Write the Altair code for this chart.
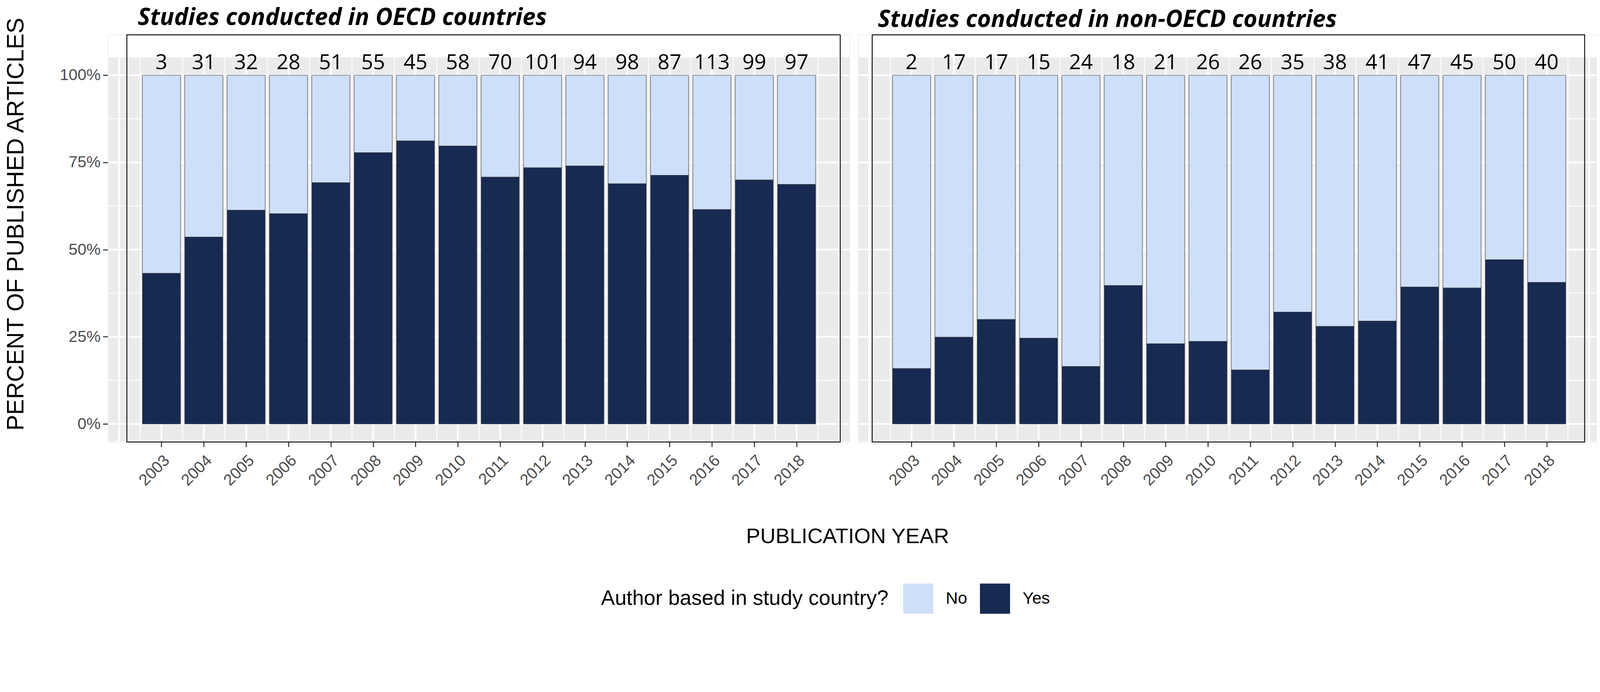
import altair as alt
import pandas as pd

# ---------------- data ----------------
YEARS = [2003, 2004, 2005, 2006, 2007, 2008, 2009, 2010,
         2011, 2012, 2013, 2014, 2015, 2016, 2017, 2018]
OECD_N = [3, 31, 32, 28, 51, 55, 45, 58, 70, 101, 94, 98, 87, 113, 99, 97]
OECD_YES = [0.432, 0.536, 0.613, 0.603, 0.692, 0.778, 0.812, 0.797,
            0.708, 0.735, 0.740, 0.689, 0.713, 0.615, 0.700, 0.687]
NON_N = [2, 17, 17, 15, 24, 18, 21, 26, 26, 35, 38, 41, 47, 45, 50, 40]
NON_YES = [0.159, 0.249, 0.300, 0.246, 0.165, 0.397, 0.230, 0.237,
           0.155, 0.321, 0.280, 0.295, 0.393, 0.390, 0.471, 0.406]
STATUS = ["No", "Yes"]
Y_TICKS = [0, 0.25, 0.5, 0.75, 1.0]
Y_MINOR = [0.125, 0.375, 0.625, 0.875]
X_MAJOR = [2002] + YEARS + [2019]
X_MINOR = [y - 0.5 for y in YEARS] + [YEARS[-1] + 0.5]

# ---------------- style ----------------
W, H = 2133, 1171
X_DOMAIN = [2001.74, 2019.25]
Y_DOMAIN = [-0.0518, 1.1157]
GRAY_TOP = 1.0508
GRAY_BOT = -0.0499
LIGHT, NAVY = "#CEDFF9", "#172A52"
SANS = "Liberation Sans"

xscale = alt.Scale(domain=X_DOMAIN, nice=False, zero=False)
yscale = alt.Scale(domain=Y_DOMAIN, nice=False, zero=False)
cscale = alt.Scale(domain=STATUS, range=[LIGHT, NAVY])

legend = alt.Legend(
    orient="none", legendX=1418, legendY=1578, direction="horizontal",
    title="Author based in study country?", titleOrient="left",
    titleFont=SANS, titleFontSize=60, titleFontWeight="normal", titleColor="black",
    titleBaseline="middle", titlePadding=41, titleLimit=3000, labelLimit=1000,
    labelFont=SANS, labelFontSize=48, labelColor="black", labelOffset=36,
    columnPadding=36, symbolType="square", symbolSize=7500,
    symbolStrokeWidth=0, symbolOpacity=1,
)


def rules_v(values, width):
    d = pd.DataFrame({"v": values, "a": GRAY_BOT, "b": GRAY_TOP})
    return alt.Chart(d).mark_rule(color="white", strokeWidth=width).encode(
        x=alt.X("v:Q", scale=xscale), y=alt.Y("a:Q", scale=yscale), y2="b:Q")


def rules_h(values, width):
    d = pd.DataFrame({"v": values, "a": X_DOMAIN[0], "b": X_DOMAIN[1]})
    return alt.Chart(d).mark_rule(color="white", strokeWidth=width).encode(
        y=alt.Y("v:Q", scale=yscale), x=alt.X("a:Q", scale=xscale), x2="b:Q")


def panel(nlist, yes, title, dx, toff, box_l, box_r, left):
    rows = []
    for yr, p in zip(YEARS, yes):
        rows.append({"year": yr, "status": "Yes", "ord": 0, "share": p})
        rows.append({"year": yr, "status": "No", "ord": 1, "share": 1 - p})
    df = pd.DataFrame(rows)
    cnt = pd.DataFrame({"year": YEARS, "n": nlist})

    xkw = dict(values=YEARS, format="d", labelAngle=315, labelAlign="right",
               labelBaseline="top", labelFont=SANS, labelFontSize=46,
               labelColor="#4D4D4D", labelOverlap=False, labelFlush=False,
               labelPadding=16, tickSize=14, tickWidth=3, tickColor="#333333",
               domain=False, grid=False)
    if left:
        xaxis = alt.Axis(**xkw, title="PUBLICATION YEAR", titleFont=SANS, titleFontSize=61,
                         titleFontWeight="normal", titleColor="black",
                         titleX=2127, titleY=242)
        yaxis = alt.Axis(values=Y_TICKS, format=".0%", labelFont=SANS, labelFontSize=46,
                         labelColor="#4D4D4D", labelPadding=7, tickSize=15, tickWidth=3,
                         tickColor="#333333", domain=False, grid=False,
                         title="PERCENT OF PUBLISHED ARTICLES",
                         titleFont=SANS, titleFontSize=68, titleFontWeight="normal",
                         titleColor="black", titleX=-230, titleY=544)
    else:
        xaxis = alt.Axis(**xkw, title=None)
        yaxis = alt.Axis(values=Y_TICKS, labels=False, ticks=False, domain=False,
                         grid=False, title=None)

    bg = alt.Chart(pd.DataFrame({"x0": [X_DOMAIN[0]], "x1": [X_DOMAIN[1]],
                                 "y0": [GRAY_BOT], "y1": [GRAY_TOP]})).mark_rect(
        color="#EBEBEB").encode(
        x=alt.X("x0:Q", scale=xscale, axis=xaxis), x2="x1:Q",
        y=alt.Y("y0:Q", scale=yscale, axis=yaxis), y2="y1:Q")

    bars = alt.Chart(df).transform_stack(
        stack="share", groupby=["year"], as_=["s0", "s1"],
        sort=[alt.SortField("ord", order="ascending")]
    ).transform_calculate(
        x0="datum.year - 0.45", x1="datum.year + 0.45"
    ).mark_rect(stroke="#3a3a3a", strokeWidth=1.2).encode(
        x=alt.X("x0:Q", scale=xscale), x2="x1:Q",
        y=alt.Y("s0:Q", scale=yscale), y2="s1:Q",
        color=alt.Color("status:N", scale=cscale, legend=legend),
    )

    text = alt.Chart(cnt).mark_text(font="Open Sans", fontSize=60, baseline="alphabetic",
                                    dy=-17, color="black").encode(
        x=alt.X("year:Q", scale=xscale), y=alt.Y("top:Q", scale=yscale),
        text="n:Q").transform_calculate(top="1.0")

    box = alt.Chart(pd.DataFrame({"x0": [box_l], "x1": [box_r],
                                  "y0": [Y_DOMAIN[0]], "y1": [Y_DOMAIN[1]]})).mark_rect(
        fillOpacity=0, stroke="black", strokeWidth=2.5).encode(
        x=alt.X("x0:Q", scale=xscale), x2="x1:Q",
        y=alt.Y("y0:Q", scale=yscale), y2="y1:Q")

    return alt.layer(bg, rules_v(X_MINOR, 2.5), rules_v(X_MAJOR, 5),
                     rules_h(Y_MINOR, 2.5), rules_h(Y_TICKS, 5),
                     bars, text, box).properties(
        width=W, height=H,
        title=alt.TitleParams(title, anchor="start", frame="group",
                              font="Open Sans", fontSize=68,
                              fontStyle="italic", fontWeight="bold", color="black",
                              dx=dx, offset=toff),
    )


left = panel(OECD_N, OECD_YES, "Studies conducted in OECD countries", 85, -38,
             2002.183, 2019.03, True)
right = panel(NON_N, NON_YES, "Studies conducted in non-OECD countries", 56, 7,
              2002.07, 2018.895, False)

chart = alt.hconcat(left, right, spacing=25, bounds="flush").properties(
    autosize=alt.AutoSizeParams(type="none"),
    padding={"left": 302, "top": -60, "right": 4283, "bottom": 1332},
).configure_view(fill="white", stroke="transparent").configure(background="white")

chart.save("out.html", embed_options={"renderer": "svg", "actions": False})
